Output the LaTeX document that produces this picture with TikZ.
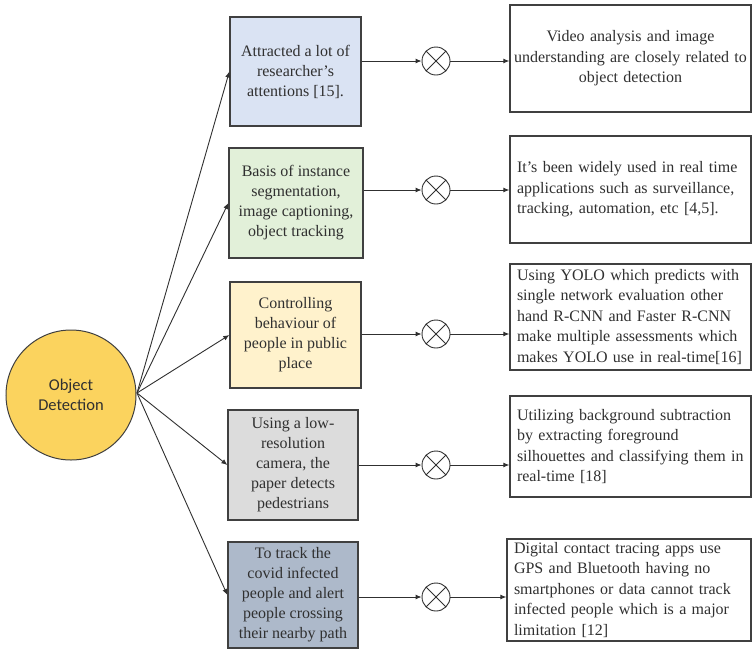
\documentclass[tikz,border=0pt]{standalone}
\usepackage{fontspec}
\setmainfont{Liberation Serif}
\newfontfamily\timesface{Liberation Serif}
\newfontfamily\calibrifont{Carlito}
\usetikzlibrary{arrows.meta}

\definecolor{edgegray}{HTML}{404040}
\definecolor{inkgray}{HTML}{303030}
\definecolor{hubfill}{HTML}{FBD35E}
\definecolor{fillblue}{HTML}{DAE3F3}
\definecolor{fillgreen}{HTML}{E2F0D9}
\definecolor{fillyellow}{HTML}{FFF2CC}
\definecolor{fillgray}{HTML}{DCDCDC}
\definecolor{fillslate}{HTML}{ADB9CA}

\tikzset{
  hub/.style={circle, draw=edgegray, line width=1pt, fill=hubfill,
    minimum size=130pt, inner sep=0pt, align=center, text=inkgray,
    font=\calibrifont\fontsize{16.5}{20.5}\selectfont},
  topic/.style={draw=edgegray, line width=1.3pt, inner sep=0pt,
    align=center, text=inkgray, font=\timesface\fontsize{16}{20}\selectfont},
  detail/.style={draw=edgegray, line width=1.3pt, fill=white,
    minimum width=241pt, text width=227pt, inner xsep=7pt, inner ysep=0pt,
    text=inkgray, font=\timesface\fontsize{16}{20.5}\selectfont},
  mixer/.style={circle, draw=inkgray, line width=0.9pt, fill=white,
    minimum size=28pt, inner sep=0pt,
    path picture={
      \draw[inkgray, line width=0.9pt]
        (path picture bounding box.north west) -- (path picture bounding box.south east)
        (path picture bounding box.north east) -- (path picture bounding box.south west);
    }},
  link/.style={draw=inkgray, line width=0.9pt,
    -{Latex[length=6pt,width=5pt]}},
}

\begin{document}
\begin{tikzpicture}[x=1pt,y=-1pt]
  \useasboundingbox (0,0) rectangle (753,649);

  % central topic
  \node[hub] (od) at (71,395) {Object\\Detection};

  % first column: application areas
  \node[topic, fill=fillblue, minimum width=131pt, minimum height=109pt]
    (b1) at (295.5,71.5) {Attracted a lot of\\researcher’s\\attentions [15].};
  \node[topic, fill=fillgreen, minimum width=134pt, minimum height=110pt]
    (b2) at (296,203) {Basis of instance\\segmentation,\\image captioning,\\object tracking};
  \node[topic, fill=fillyellow, minimum width=131pt, minimum height=106pt]
    (b3) at (295.5,335) {Controlling\\behaviour of\\people in public\\place};
  \node[topic, fill=fillgray, minimum width=130pt, minimum height=110pt]
    (b4) at (293,465) {Using a low-\\resolution\\camera, the\\paper detects\\pedestrians};
  \node[topic, fill=fillslate, minimum width=130pt, minimum height=106pt]
    (b5) at (293,595) {To track the\\covid infected\\people and alert\\people crossing\\their nearby path};

  % combining junctions
  \node[mixer] (x1) at (436,61) {};
  \node[mixer] (x2) at (436,190) {};
  \node[mixer] (x3) at (436,334) {};
  \node[mixer] (x4) at (436,465) {};
  \node[mixer] (x5) at (436,597) {};

  % second column: details
  \node[detail, align=center, minimum height=107pt, text width=237pt, inner xsep=2pt]
    (r1) at (630.5,58.5) {Video analysis and image\\understanding are closely related to\\object detection};
  \node[detail, align=left, minimum height=107pt]
    (r2) at (630.5,189.5) {It’s been widely used in real time\\applications such as surveillance,\\tracking, automation, etc [4,5].};
  \node[detail, align=left, minimum height=106pt]
    (r3) at (630.5,317) {Using YOLO which predicts with\\single network evaluation other\\hand R-CNN and Faster R-CNN\\make multiple assessments which\\makes YOLO use in real-time[16]};
  \node[detail, align=left, minimum height=101pt]
    (r4) at (630.5,446.5) {Utilizing background subtraction\\by extracting foreground\\silhouettes and classifying them in\\real-time [18]};
  \node[detail, align=left, minimum height=102pt, minimum width=244pt, text width=230pt]
    (r5) at (629,590) {Digital contact tracing apps use\\GPS and Bluetooth having no\\smartphones or data cannot track\\infected people which is a major\\limitation [12]};

  % fan-out from the central topic
  \coordinate (fan) at (137,393);
  \foreach \b in {b1,b2,b3,b4,b5}
    \draw[link] (fan) -- (\b.west);

  % topic -> junction -> detail
  \foreach \i in {1,...,5} {
    \draw[link] (x\i -| b\i.east) -- (x\i.west);
    \draw[link] (x\i.east) -- (x\i -| r\i.west);
  }
\end{tikzpicture}
\end{document}
